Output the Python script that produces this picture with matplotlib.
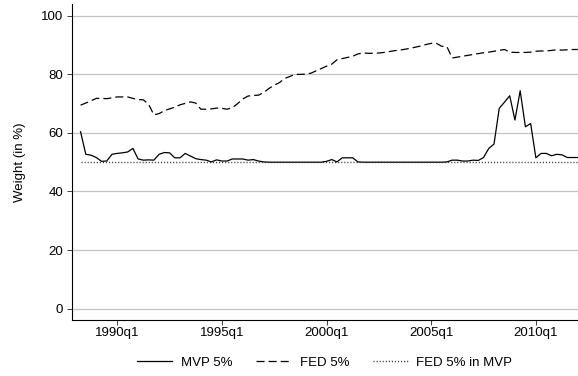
import matplotlib
matplotlib.use("Agg")
import matplotlib.pyplot as plt
import numpy as np

# quarters counted from 1990q1 (0 = 1990q1), sample 1988q2 .. 2012q1
first_q = -7
mvp5 = [60.4, 52.7, 52.4, 51.6, 50.3, 50.4, 52.7,
        53.0, 53.2, 53.5, 54.7, 51.1, 50.7, 50.8, 50.7, 52.7, 53.3,
        53.2, 51.5, 51.5, 53.0, 52.1, 51.2, 50.9, 50.7, 50.1, 50.8,
        50.4, 50.4, 51.1, 51.1, 51.1, 50.7, 50.9, 50.4, 50.1, 50.0,
        50.0, 50.0, 50.0, 50.0, 50.0, 50.0, 50.0, 50.0, 50.0, 50.0,
        50.3, 50.9, 50.1, 51.5, 51.5, 51.5, 50.1, 50.0, 50.0, 50.0,
        50.0, 50.0, 50.0, 50.0, 50.0, 50.0, 50.0, 50.0, 50.0, 50.0,
        50.0, 50.0, 50.0, 50.1, 50.7, 50.7, 50.4, 50.4, 50.7, 50.6,
        51.6, 54.7, 56.2, 68.4, 70.5, 72.7, 64.4, 74.4, 62.1, 63.2,
        51.5, 53.0, 53.0, 52.2, 52.7, 52.5, 51.6, 51.6, 51.6]
fed5 = [69.5, 70.2, 71.0, 71.8, 71.8, 71.7, 72.0,
        72.3, 72.3, 72.3, 71.8, 71.4, 71.3, 69.8, 66.2, 66.6, 67.6,
        68.2, 68.8, 69.6, 70.1, 70.6, 70.2, 68.1, 68.1, 68.2, 68.5,
        68.4, 68.1, 68.6, 70.0, 71.6, 72.6, 72.8, 72.9, 73.8, 75.2,
        76.3, 77.2, 78.6, 79.3, 80.0, 80.0, 80.1, 80.4, 81.2, 82.0,
        82.8, 83.5, 85.0, 85.4, 85.8, 86.2, 87.0, 87.3, 87.2, 87.2,
        87.3, 87.5, 87.8, 88.1, 88.3, 88.6, 88.9, 89.3, 89.7, 90.2,
        90.6, 90.6, 89.6, 89.5, 85.6, 85.9, 86.2, 86.5, 86.8, 87.1,
        87.4, 87.6, 87.9, 88.2, 88.5, 87.6, 87.5, 87.5, 87.5, 87.6,
        87.9, 88.0, 88.0, 88.2, 88.4, 88.3, 88.4, 88.5, 88.5]
fed5_in_mvp = 50.0

tick_years = [1990, 1995, 2000, 2005, 2010]
y_ticks = [0, 20, 40, 60, 80, 100]

plt.rcParams['font.family'] = ['Liberation Sans', 'DejaVu Sans']
plt.rcParams['lines.scale_dashes'] = False

q = np.arange(first_q, first_q + len(mvp5))

fig = plt.figure(figsize=(5.78, 3.76), dpi=100)
ax = fig.add_axes([0.124, 0.149, 0.876, 0.840])

ax.plot(q, mvp5, color='black', lw=0.9, label='MVP 5%')
ax.plot(q, fed5, color='black', lw=0.9, dashes=(5.8, 2.9), label='FED 5%')
ax.plot(q, np.full(len(q), fed5_in_mvp), color='#383838', lw=1.0,
        dashes=(0.8, 1.4), label='FED 5% in MVP')

ax.set_xlim(-8.7, 88.05)
ax.set_ylim(-3.9, 104)
ax.set_xticks([(y - 1990) * 4 for y in tick_years])
ax.set_xticklabels(['%dq1' % y for y in tick_years])
ax.set_yticks(y_ticks)
ax.grid(axis='y', color='#c4c4c4', lw=0.9)
ax.set_axisbelow(True)
for s in ['top', 'right']:
    ax.spines[s].set_visible(False)
for s in ['left', 'bottom']:
    ax.spines[s].set_linewidth(0.8)
ax.tick_params(length=3.6, width=0.7, color='#404040', labelsize=9.5, pad=2.5)
ax.tick_params(axis='x', pad=1.8)
ax.set_ylabel('Weight (in %)', fontsize=9.5, labelpad=11)

leg = fig.legend(loc='center', bbox_to_anchor=(0.562, 0.035), ncol=3,
                 frameon=False, fontsize=9.5, handlelength=2.65,
                 handletextpad=0.65, columnspacing=1.8)

fig.savefig('out.png', dpi=100)
